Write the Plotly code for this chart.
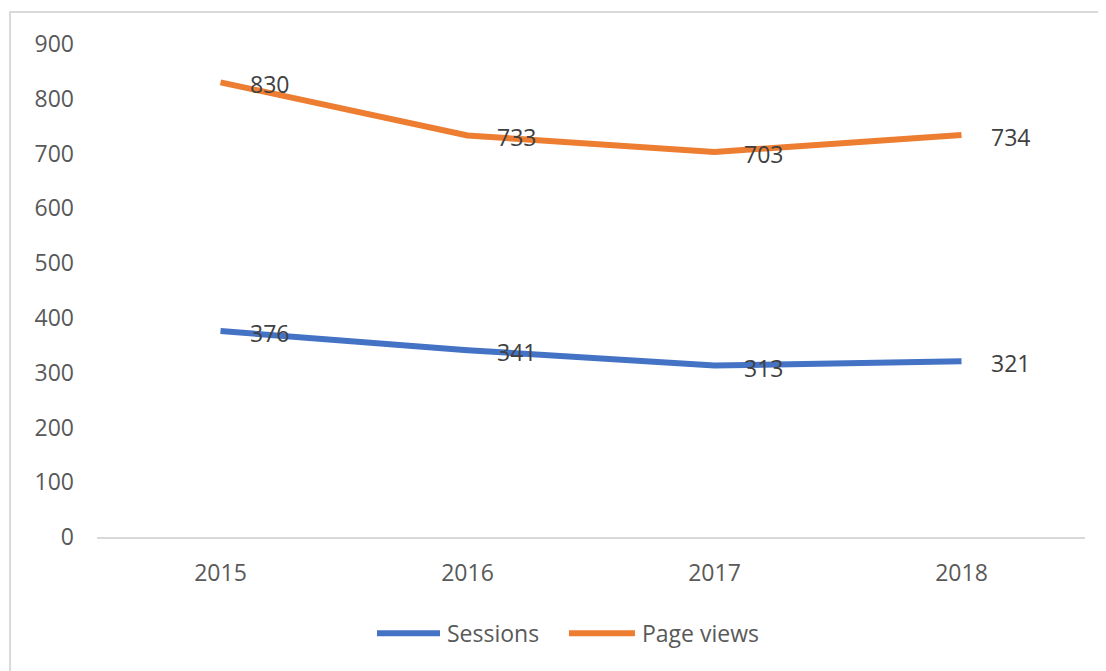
import plotly.graph_objects as go

years = ['2015', '2016', '2017', '2018']
sessions = [376, 341, 313, 321]
page_views = [830, 733, 703, 734]
y_ticks = [0, 100, 200, 300, 400, 500, 600, 700, 800, 900]

FONT = 'Open Sans'
TEXT = '#595959'

fig = go.Figure()
series = [
    ('Sessions', sessions, '#4472C4'),
    ('Page views', page_views, '#ED7D31'),
]
for name, vals, color in series:
    fig.add_trace(go.Scatter(
        x=list(range(len(years))),
        y=vals,
        mode='lines',
        name=name,
        line=dict(color=color, width=6),
        hoverinfo='skip',
        showlegend=False,
    ))
    # data labels to the right of each point
    for i, v in enumerate(vals):
        fig.add_annotation(
            x=i, y=v, text=str(v), showarrow=False,
            xanchor='left', yanchor='middle', xshift=27, yshift=-2,
            font=dict(family=FONT, size=23, color='#404040'),
        )

# legend drawn by hand so the key lines are long like Excel's
legend_pos = [(0.2834, 0.3472), (0.4777, 0.5445)]
legend_y = -0.195
for (name, _, color), (lx0, lx1) in zip(series, legend_pos):
    fig.add_shape(
        type='line', xref='paper', yref='paper',
        x0=lx0, x1=lx1, y0=legend_y, y1=legend_y,
        line=dict(color=color, width=6),
    )
    fig.add_annotation(
        xref='paper', yref='paper', x=lx1 + 0.005, y=legend_y,
        text=name, showarrow=False, xanchor='left', yanchor='middle',
        font=dict(family=FONT, size=23, color=TEXT),
    )

# light chart border, as in the Excel export
fig.add_shape(
    type='rect', xref='paper', yref='paper',
    x0=-0.088, x1=1.04, y0=-0.3, y1=1.065,
    line=dict(color='#d9d9d9', width=2), layer='below',
)

fig.update_layout(
    width=1098,
    height=663,
    margin=dict(l=89, r=21, t=36, b=134),
    paper_bgcolor='white',
    plot_bgcolor='white',
    font=dict(family=FONT, size=23, color=TEXT),
    showlegend=False,
    xaxis=dict(
        range=[-0.5, 3.5],
        tickvals=list(range(len(years))),
        ticktext=years,
        showgrid=False, zeroline=False,
        showline=True, linecolor='#d9d9d9', linewidth=2,
        ticks='', ticklabelstandoff=14,
        fixedrange=True,
    ),
    yaxis=dict(
        range=[0, 900],
        tickvals=y_ticks,
        showgrid=False, zeroline=False, showline=False,
        ticks='', ticklabelstandoff=22,
        fixedrange=True,
    ),
)

fig.write_html('out.html')
